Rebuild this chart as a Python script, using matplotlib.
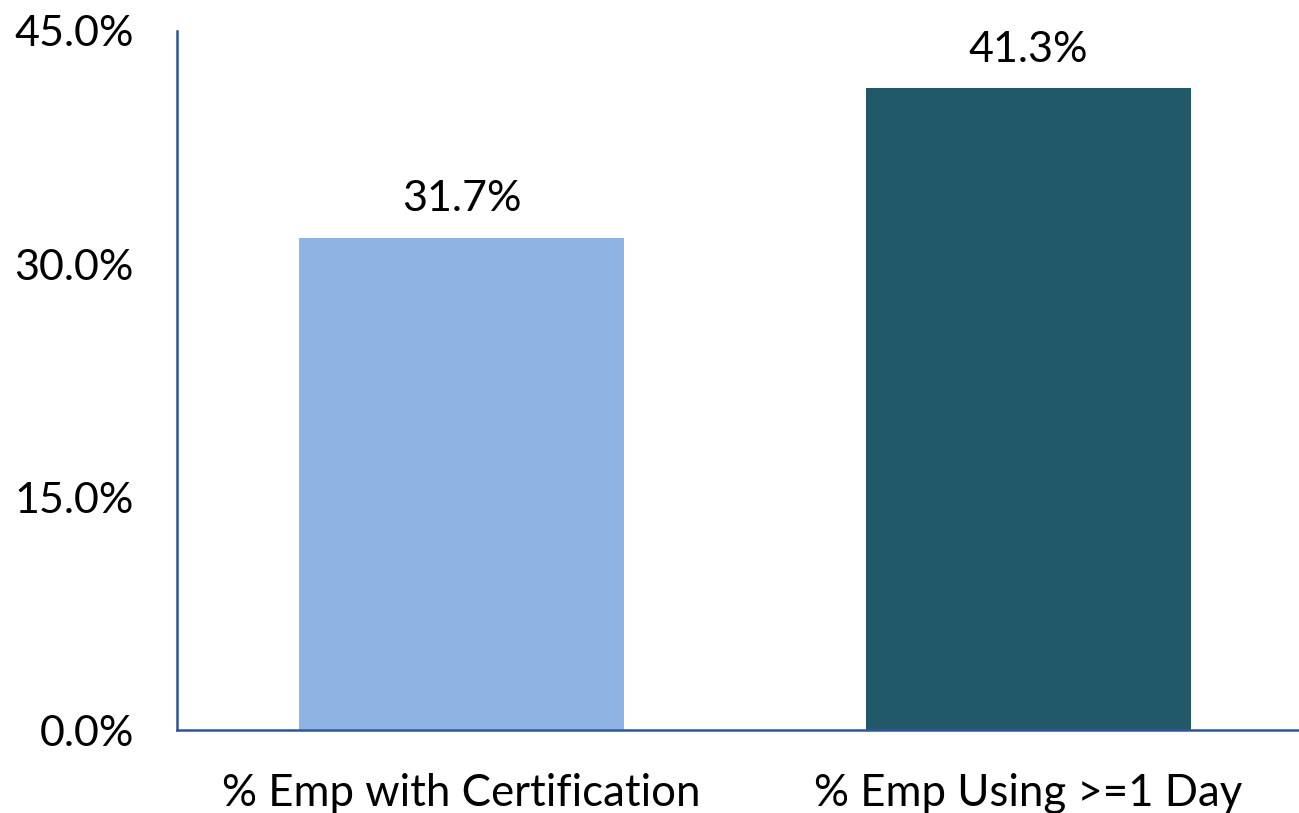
import matplotlib
matplotlib.use("Agg")
import matplotlib.pyplot as plt
from matplotlib.ticker import PercentFormatter

categories = ["% Emp with Certification", "% Emp Using >=1 Day"]
values = [0.317, 0.413]
labels = ["31.7%", "41.3%"]
colors = ["#8EB4E3", "#215968"]
yticks = [0.0, 0.15, 0.30, 0.45]

plt.rcParams['font.family'] = ['Lato', 'DejaVu Sans']

fig = plt.figure(figsize=(12.99, 8.13), dpi=100)
ax = fig.add_axes([177/1299, 1-730/813, 1-177/1299, (730-31)/813])
x = list(range(len(categories)))
bars = ax.bar(x, values, width=0.573, color=colors)
for b, lab in zip(bars, labels):
    ax.annotate(lab, (b.get_x()+b.get_width()/2, b.get_height()), xytext=(0, 14),
                textcoords="offset points", ha="center", va="bottom", fontsize=31)
ax.set_xlim(-0.502, 1.477)
ax.set_ylim(0, 0.45)
ax.set_yticks(yticks)
ax.yaxis.set_major_formatter(PercentFormatter(1.0, decimals=1))
ax.set_xticks(x)
ax.set_xticklabels(categories)
ax.tick_params(axis='both', length=0, labelsize=31)
ax.tick_params(axis='x', labelsize=31.5)
ax.tick_params(axis='y', pad=31)
ax.tick_params(axis='x', pad=31)
for s in ["top", "right"]:
    ax.spines[s].set_visible(False)
for s in ["left", "bottom"]:
    ax.spines[s].set_color("#2F5597")
    ax.spines[s].set_linewidth(1.8)
fig.savefig("out.png", dpi=100)
